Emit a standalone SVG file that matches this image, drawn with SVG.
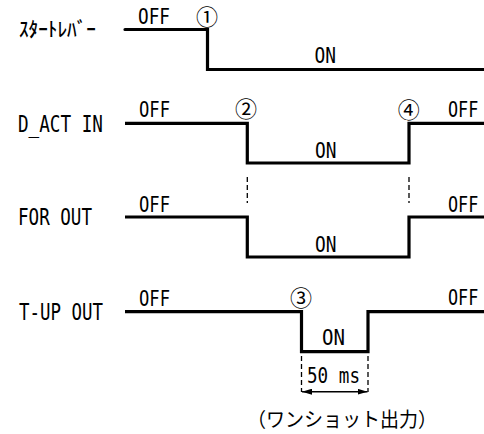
<svg xmlns="http://www.w3.org/2000/svg" width="484" height="434" viewBox="0 0 484 434">
<style>
.sig{fill:none;stroke:#000;stroke-width:3.2;stroke-linejoin:miter}
.dash{fill:none;stroke:#000;stroke-width:1.3;stroke-dasharray:5 3}
.t{font-family:"DejaVu Sans Mono","Liberation Mono",monospace;font-size:21.5px;fill:#000}
.lb{font-family:"DejaVu Sans Mono","Liberation Mono",monospace;font-size:23px;fill:#000}
.jp{font-family:"Noto Sans CJK JP",sans-serif;fill:#000}
.num{font-family:"Noto Sans CJK JP",sans-serif;font-size:22px;fill:#000;text-anchor:middle}
</style>
<defs>
<marker id="ah" viewBox="0 0 10 6" refX="10" refY="3" markerWidth="10" markerHeight="6" markerUnits="userSpaceOnUse" orient="auto-start-reverse">
<path d="M0,0 L10,3 L0,6 Z" fill="#000"/>
</marker>
</defs>
<g id="connectors">
<path class="sig" d="M125,29.5 H207.5 V69.5 H484" stroke-linecap="round"/>
<path class="sig" d="M125,123.3 H247.3 V163 H409 V123.3 H484"/>
<path class="sig" d="M125,217 H247.3 V257 H409 V217 H484"/>
<path class="sig" d="M125,311.7 H301.5 V351.7 H368 V311.7 H484"/>
<line class="dash" x1="247.3" y1="177" x2="247.3" y2="203"/>
<line class="dash" x1="409" y1="177" x2="409" y2="203"/>
<line class="dash" x1="301.5" y1="356" x2="301.5" y2="392"/>
<line class="dash" x1="368" y1="356" x2="368" y2="392"/>
<line x1="302" y1="391.7" x2="367.5" y2="391.7" stroke="#000" stroke-width="1.5" marker-start="url(#ah)" marker-end="url(#ah)"/>
</g>
<g id="start-lever">
<text class="jp" x="19" y="37" font-size="20" font-weight="500" textLength="77" lengthAdjust="spacingAndGlyphs">ｽﾀｰﾄﾚﾊﾞｰ</text>
<text class="t" x="138" y="24" textLength="32" lengthAdjust="spacingAndGlyphs">OFF</text>
<text class="num" x="207" y="25">①</text>
<text class="t" x="314.5" y="63" textLength="21.5" lengthAdjust="spacingAndGlyphs">ON</text>
</g>
<g id="d-act-in">
<text class="lb" x="18" y="131.5" textLength="85" lengthAdjust="spacingAndGlyphs">D_ACT IN</text>
<text class="t" x="139" y="117" textLength="31" lengthAdjust="spacingAndGlyphs">OFF</text>
<text class="num" x="246" y="117">②</text>
<text class="t" x="315" y="158" textLength="21.5" lengthAdjust="spacingAndGlyphs">ON</text>
<text class="num" x="408.7" y="118">④</text>
<text class="t" transform="translate(448,117) scale(0.78,1)">OFF</text>
</g>
<g id="for-out">
<text class="lb" x="18" y="225" textLength="74" lengthAdjust="spacingAndGlyphs">FOR OUT</text>
<text class="t" x="139" y="212" textLength="31" lengthAdjust="spacingAndGlyphs">OFF</text>
<text class="t" x="315" y="252" textLength="21.5" lengthAdjust="spacingAndGlyphs">ON</text>
<text class="t" transform="translate(448,212) scale(0.78,1)">OFF</text>
</g>
<g id="t-up-out">
<text class="lb" x="19" y="320" textLength="84" lengthAdjust="spacingAndGlyphs">T-UP OUT</text>
<text class="t" x="139" y="306" textLength="31" lengthAdjust="spacingAndGlyphs">OFF</text>
<text class="num" x="301" y="305.5">③</text>
<text class="t" x="322" y="345" textLength="23" lengthAdjust="spacingAndGlyphs">ON</text>
<text class="t" transform="translate(448,305) scale(0.78,1)">OFF</text>
<text class="t" x="307" y="383" textLength="53" lengthAdjust="spacingAndGlyphs">50 ms</text>
<text class="jp" x="247" y="427" font-size="20" textLength="190" lengthAdjust="spacingAndGlyphs">（ワンショット出力）</text>
</g>
</svg>
